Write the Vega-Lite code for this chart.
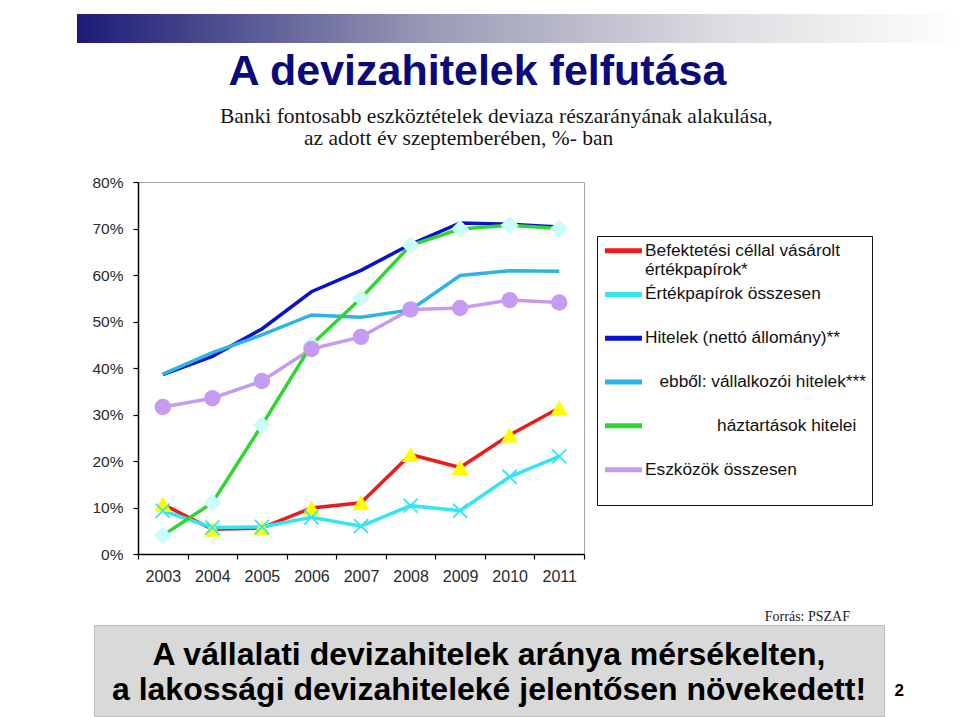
{
  "$schema": "https://vega.github.io/schema/vega-lite/v6.json",
  "background": "white",
  "padding": {"left": 77, "top": 14, "right": 0, "bottom": 0},
  "spacing": 24,
  "resolve": {"legend": {"color": "independent"}},
  "config": {"view": {"stroke": null}, "font": "Liberation Sans"},
  "vconcat": [
    {
      "width": 883,
      "height": 29,
      "data": {"values": [{"k": 1}]},
      "mark": {
        "type": "rect",
        "color": {
          "gradient": "linear", "x1": 0, "y1": 0, "x2": 1, "y2": 0,
          "stops": [
            {"offset": 0, "color": "#1b1b77"},
            {"offset": 0.4, "color": "#9a9ab6"},
            {"offset": 0.75, "color": "#e0e0e4"},
            {"offset": 1, "color": "#ffffff"}
          ]
        }
      },
      "title": {
        "text": "A devizahitelek felfutása",
        "orient": "bottom",
        "anchor": "middle",
        "frame": "group",
        "dx": -41,
        "offset": 8,
        "font": "Liberation Sans",
        "fontSize": 43,
        "fontWeight": "bold",
        "color": "#0a0a7a",
        "subtitle": ["\u200b\u00a0\u00a0\u00a0\u00a0\u00a0\u00a0\u00a0Banki fontosabb eszköztételek deviaza részarányának alakulása,", "az adott év szeptemberében, %- ban\u00a0\u00a0\u00a0\u00a0\u00a0\u00a0\u00a0\u200b"],
        "subtitleFont": "Liberation Serif",
        "subtitleFontSize": 21.5,
        "subtitleColor": "#151515",
        "subtitleLineHeight": 22,
        "subtitlePadding": 12
      }
    },
    {
      "spacing": 10,
      "resolve": {"legend": {"color": "independent"}},
      "hconcat": [
        {
          "width": 4,
          "height": 1,
          "data": {"values": [{"k": 1}]},
          "mark": {"type": "text", "text": ""}
        },
        {
          "width": 446,
          "height": 372,
          "view": {"stroke": "#a6a6a6", "strokeWidth": 1},
          "data": {
            "values": [
              {"year": 2003, "series": "Befektetési céllal vásárolt értékpapírok*", "value": 10.7},
              {"year": 2004, "series": "Befektetési céllal vásárolt értékpapírok*", "value": 5.3},
              {"year": 2005, "series": "Befektetési céllal vásárolt értékpapírok*", "value": 5.6},
              {"year": 2006, "series": "Befektetési céllal vásárolt értékpapírok*", "value": 9.9},
              {"year": 2007, "series": "Befektetési céllal vásárolt értékpapírok*", "value": 11.0},
              {"year": 2008, "series": "Befektetési céllal vásárolt értékpapírok*", "value": 21.4},
              {"year": 2009, "series": "Befektetési céllal vásárolt értékpapírok*", "value": 18.6},
              {"year": 2010, "series": "Befektetési céllal vásárolt értékpapírok*", "value": 25.6},
              {"year": 2011, "series": "Befektetési céllal vásárolt értékpapírok*", "value": 31.4},
              {"year": 2003, "series": "Értékpapírok összesen", "value": 9.3},
              {"year": 2004, "series": "Értékpapírok összesen", "value": 5.7},
              {"year": 2005, "series": "Értékpapírok összesen", "value": 5.8},
              {"year": 2006, "series": "Értékpapírok összesen", "value": 7.9},
              {"year": 2007, "series": "Értékpapírok összesen", "value": 6.0},
              {"year": 2008, "series": "Értékpapírok összesen", "value": 10.4},
              {"year": 2009, "series": "Értékpapírok összesen", "value": 9.3},
              {"year": 2010, "series": "Értékpapírok összesen", "value": 16.6},
              {"year": 2011, "series": "Értékpapírok összesen", "value": 21.0},
              {"year": 2003, "series": "Hitelek (nettó állomány)**", "value": 38.6},
              {"year": 2004, "series": "Hitelek (nettó állomány)**", "value": 42.5},
              {"year": 2005, "series": "Hitelek (nettó állomány)**", "value": 48.4},
              {"year": 2006, "series": "Hitelek (nettó állomány)**", "value": 56.4},
              {"year": 2007, "series": "Hitelek (nettó állomány)**", "value": 61.0},
              {"year": 2008, "series": "Hitelek (nettó állomány)**", "value": 66.6},
              {"year": 2009, "series": "Hitelek (nettó állomány)**", "value": 71.2},
              {"year": 2010, "series": "Hitelek (nettó állomány)**", "value": 70.9},
              {"year": 2011, "series": "Hitelek (nettó állomány)**", "value": 70.3},
              {"year": 2003, "series": "ebből: vállalkozói hitelek***", "value": 38.7},
              {"year": 2004, "series": "ebből: vállalkozói hitelek***", "value": 43.3},
              {"year": 2005, "series": "ebből: vállalkozói hitelek***", "value": 47.1},
              {"year": 2006, "series": "ebből: vállalkozói hitelek***", "value": 51.4},
              {"year": 2007, "series": "ebből: vállalkozói hitelek***", "value": 50.9},
              {"year": 2008, "series": "ebből: vállalkozói hitelek***", "value": 52.5},
              {"year": 2009, "series": "ebből: vállalkozói hitelek***", "value": 59.9},
              {"year": 2010, "series": "ebből: vállalkozói hitelek***", "value": 60.9},
              {"year": 2011, "series": "ebből: vállalkozói hitelek***", "value": 60.8},
              {"year": 2003, "series": "Eszközök összesen", "value": 31.6},
              {"year": 2004, "series": "Eszközök összesen", "value": 33.5},
              {"year": 2005, "series": "Eszközök összesen", "value": 37.2},
              {"year": 2006, "series": "Eszközök összesen", "value": 44.1},
              {"year": 2007, "series": "Eszközök összesen", "value": 46.7},
              {"year": 2008, "series": "Eszközök összesen", "value": 52.6},
              {"year": 2009, "series": "Eszközök összesen", "value": 52.9},
              {"year": 2010, "series": "Eszközök összesen", "value": 54.6},
              {"year": 2011, "series": "Eszközök összesen", "value": 54.1},
              {"year": 2003, "series": "háztartások hitelei", "value": 4.0},
              {"year": 2004, "series": "háztartások hitelei", "value": 11.0},
              {"year": 2005, "series": "háztartások hitelei", "value": 27.7},
              {"year": 2006, "series": "háztartások hitelei", "value": 45.0},
              {"year": 2007, "series": "háztartások hitelei", "value": 55.0},
              {"year": 2008, "series": "háztartások hitelei", "value": 66.4},
              {"year": 2009, "series": "háztartások hitelei", "value": 69.9},
              {"year": 2010, "series": "háztartások hitelei", "value": 70.7},
              {"year": 2011, "series": "háztartások hitelei", "value": 70.0}
            ]
          },
          "encoding": {
            "x": {
              "field": "year",
              "type": "ordinal",
              "scale": {"type": "band", "paddingInner": 0, "paddingOuter": 0},
              "axis": {
                "title": null,
                "tickBand": "extent",
                "labelAngle": 0,
                "labelFont": "Liberation Sans",
                "labelFontSize": 16,
                "labelColor": "#2a2a2a",
                "labelPadding": 9,
                "tickSize": 5,
                "tickColor": "#000",
                "domainColor": "#000",
                "domainWidth": 1.5,
                "tickWidth": 1.2
              }
            },
            "y": {
              "field": "value",
              "type": "quantitative",
              "scale": {"domain": [0, 80], "nice": false},
              "axis": {
                "values": [0, 10, 20, 30, 40, 50, 60, 70, 80],
                "labelExpr": "datum.value + '%'",
                "grid": false,
                "tickSize": 5,
                "labelPadding": 10,
                "labelFont": "Liberation Sans",
                "labelFontSize": 15.5,
                "labelColor": "#2a2a2a",
                "tickColor": "#000",
                "domainColor": "#000",
                "domainWidth": 1.5,
                "tickWidth": 1.2,
                "title": null
              }
            }
          },
          "layer": [
            {
              "mark": {"type": "line", "strokeWidth": 3.5},
              "encoding": {
                "color": {
                  "field": "series",
                  "type": "nominal",
                  "scale": {
                    "domain": ["Befektetési céllal vásárolt értékpapírok*", "Értékpapírok összesen", "Hitelek (nettó állomány)**", "ebből: vállalkozói hitelek***", "háztartások hitelei", "Eszközök összesen"],
                    "range": ["#ee1a1a", "#33e6f2", "#0b12c9", "#2bb5e6", "#2fd62f", "#c69cf0"]
                  },
                  "legend": {
                    "orient": "none",
                    "legendX": 459,
                    "legendY": 54,
                    "title": null,
                    "strokeColor": "#111",
                    "fillColor": "#ffffff",
                    "padding": 6,
                    "symbolType": "M-1.33,0H6.07M0,3.69",
                    "symbolSize": 100,
                    "symbolStrokeWidth": 5,
                    "labelOffset": 24.7,
                    "labelFont": "Liberation Sans",
                    "labelFontSize": 17.3,
                    "labelColor": "#111",
                    "labelLimit": 400,
                    "rowPadding": 3.8,
                    "labelExpr": "datum.label == 'Befektetési céllal vásárolt értékpapírok*' ? ['Befektetési céllal vásárolt', 'értékpapírok*'] : datum.label == 'ebből: vállalkozói hitelek***' ? '\u200b\u00a0\u00a0\u00a0' + datum.label : datum.label == 'háztartások hitelei' ? '\u200b\u00a0\u00a0\u00a0\u00a0\u00a0\u00a0\u00a0\u00a0\u00a0\u00a0\u00a0\u00a0\u00a0\u00a0\u00a0' + datum.label : datum.label"
                  }
                }
              }
            },
            {
              "transform": [{"filter": "datum.series == 'Befektetési céllal vásárolt értékpapírok*'"}],
              "mark": {"type": "point", "shape": "triangle-up", "filled": true, "color": "#ffff00", "size": 300, "opacity": 1}
            },
            {
              "transform": [{"filter": "datum.series == 'Értékpapírok összesen'"}],
              "mark": {"type": "point", "shape": "M-1,-1L1,1M-1,1L1,-1", "filled": false, "color": "#33e6f2", "size": 200, "strokeWidth": 1.8, "opacity": 1}
            },
            {
              "transform": [{"filter": "datum.series == 'háztartások hitelei'"}],
              "mark": {"type": "point", "shape": "diamond", "filled": true, "color": "#ccfbfb", "size": 330, "opacity": 1}
            },
            {
              "transform": [{"filter": "datum.series == 'Eszközök összesen'"}],
              "mark": {"type": "point", "shape": "circle", "filled": true, "color": "#c69cf0", "size": 270, "opacity": 1}
            }
          ]
        }
      ]
    },
    {
      "spacing": 10,
      "hconcat": [
        {
          "width": 6,
          "height": 1,
          "data": {"values": [{"k": 1}]},
          "mark": {"type": "text", "text": ""}
        },
        {
          "width": 790,
          "height": 91,
          "view": {"fill": "#d9d9d9", "stroke": "#bdbdbd"},
          "data": {
            "values": [
              {"line": 1, "text": "A vállalati devizahitelek aránya mérsékelten,"},
              {"line": 2, "text": "a lakossági devizahiteleké jelentősen növekedett!"}
            ]
          },
          "title": {
            "text": "Forrás: PSZAF",
            "orient": "top",
            "anchor": "end",
            "frame": "group",
            "dx": -34,
            "offset": 1,
            "font": "Liberation Serif",
            "fontSize": 14,
            "fontWeight": "normal",
            "color": "#222"
          },
          "mark": {"type": "text", "font": "Liberation Sans", "fontSize": 32, "fontWeight": "bold", "color": "#000", "baseline": "middle"},
          "encoding": {
            "text": {"field": "text"},
            "y": {
              "field": "line",
              "type": "quantitative",
              "scale": {"domain": [0.142857, 2.742857], "reverse": true, "nice": false, "zero": false},
              "axis": {"orient": "right", "values": [2], "domain": false, "ticks": false, "grid": false, "labelPadding": 10, "labelFont": "Liberation Sans", "labelFontWeight": "bold", "labelFontSize": 17, "labelColor": "#000", "title": null}
            }
          }
        }
      ]
    }
  ]
}
